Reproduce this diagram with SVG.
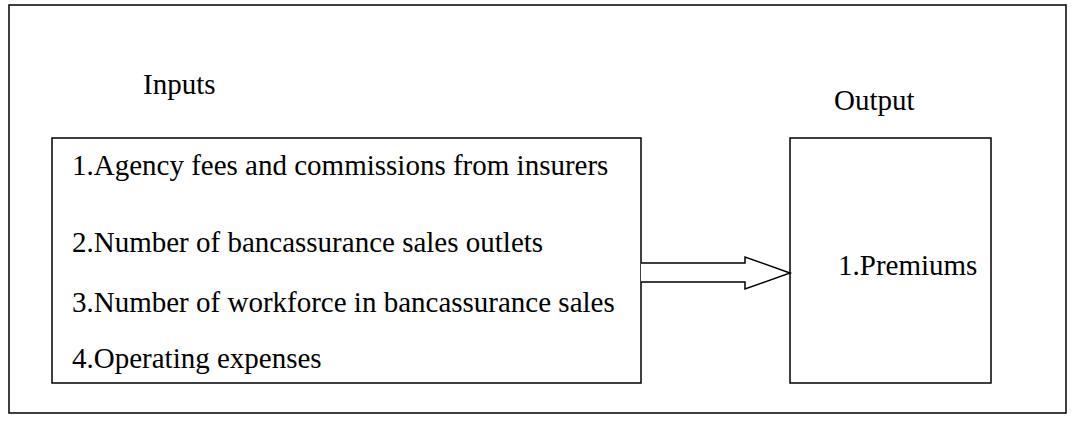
<svg xmlns="http://www.w3.org/2000/svg" width="1089" height="448" viewBox="0 0 1089 448">
<style>
.box{fill:#fff;stroke:#000;stroke-width:1.5}
.t{font-family:"Liberation Serif","Times New Roman",serif;font-size:29px;fill:#000}
</style>
<rect x="0" y="0" width="1089" height="448" fill="#fff"/>
<rect id="frame" x="9" y="5" width="1057" height="408" fill="none" stroke="#000" stroke-width="1.5"/>
<text class="t" x="143" y="94">Inputs</text>
<text class="t" x="834" y="110">Output</text>
<g id="inputs">
<rect class="box" x="52" y="138" width="589" height="245"/>
<text class="t" x="72" y="175">1.Agency fees and commissions from insurers</text>
<text class="t" x="72" y="252">2.Number of bancassurance sales outlets</text>
<text class="t" x="72" y="312">3.Number of workforce in bancassurance sales</text>
<text class="t" x="72" y="368">4.Operating expenses</text>
</g>
<g id="output">
<rect class="box" x="790" y="138" width="201" height="245"/>
<text class="t" x="838" y="275">1.Premiums</text>
</g>
<g id="connectors">
<path d="M641,263 H745 V257 L790,273 L745,289 V282 H641" fill="#fff" stroke="#000" stroke-width="1.5"/>
</g>
</svg>
